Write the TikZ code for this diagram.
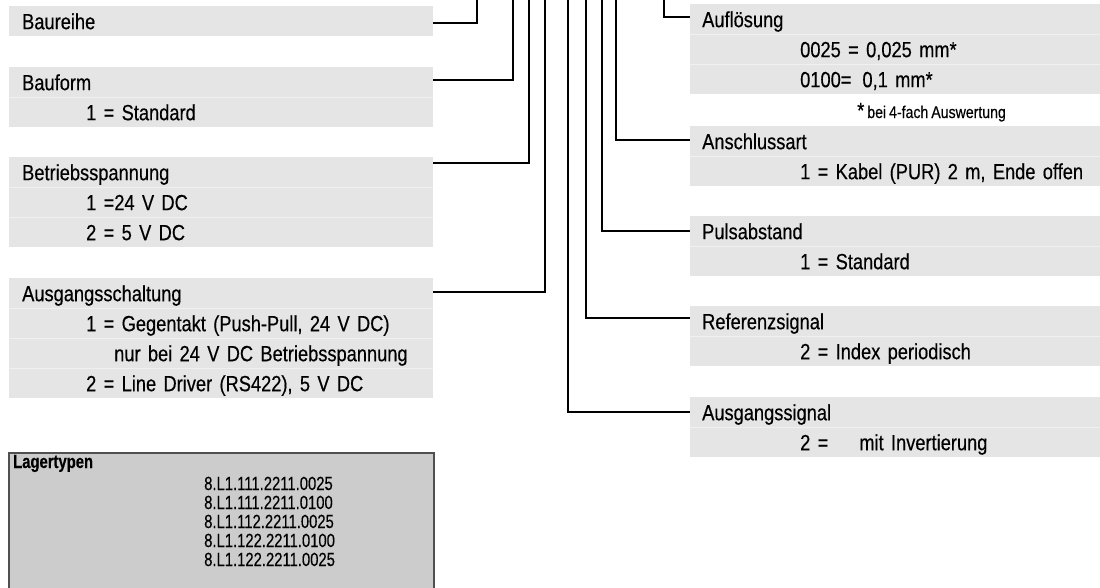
\documentclass[tikz,border=0pt]{standalone}
\usepackage{fontspec}
\setmainfont{Liberation Sans}[FakeStretch=0.83, FakeBold=0.4]
\newfontfamily\lagerfont{Liberation Sans}[FakeStretch=0.78, FakeBold=0.3]
\definecolor{boxgray}{HTML}{E5E5E5}
\definecolor{sepgray}{HTML}{F0F0F0}
\definecolor{lagerfill}{HTML}{CCCCCC}
\definecolor{lagerborder}{HTML}{505050}
\newcommand\mainsz{\fontsize{22}{26}\selectfont\spaceskip=3.6pt\relax}
\newcommand\fnsz{\fontsize{17}{20}\selectfont\spaceskip=3pt\relax}
\newcommand\lagersz{\lagerfont\fontsize{19}{21}\selectfont}
\begin{document}
\begin{tikzpicture}[x=1pt,y=-1pt,
  rowbase/.style={rectangle, fill=boxgray, anchor=north west, inner sep=0pt,
    text height=23pt, text depth=7pt, align=left, font=\mainsz},
  lrow/.style={rowbase, text width=424pt},
  rrow/.style={rowbase, text width=410pt},
  conn/.style={line width=2.5pt, black, line join=miter},
  sepline/.style={line width=1pt, sepgray},
  lagerbox/.style={rectangle, anchor=north west, draw=lagerborder, line width=1.5pt,
    fill=lagerfill, minimum width=425pt, minimum height=160pt, inner sep=0pt},
  lagertxt/.style={anchor=base west, inner sep=0pt, font=\lagersz}
]
\useasboundingbox (0,0) rectangle (1100,587);

% ---------- left boxes ----------
\node[lrow] (bauH) at (9,6) {\hspace*{13pt}Baureihe};

\node[lrow] (bfH) at (9,67) {\hspace*{13pt}Bauform};
\node[lrow] (bf1) at (9,97) {\hspace*{77pt}1 = Standard};

\node[lrow] (bsH) at (9,157) {\hspace*{13pt}Betriebsspannung};
\node[lrow] (bs1) at (9,187) {\hspace*{77pt}1 =24 V DC};
\node[lrow] (bs2) at (9,217) {\hspace*{77pt}2 = 5 V DC};

\node[lrow] (asH) at (9,278) {\hspace*{13pt}Ausgangsschaltung};
\node[lrow] (as1) at (9,308) {\hspace*{77pt}1 = Gegentakt (Push-Pull, 24 V DC)};
\node[lrow] (as2) at (9,338) {\hspace*{105pt}nur bei 24 V DC Betriebsspannung};
\node[lrow] (as3) at (9,368) {\hspace*{77pt}2 = Line Driver (RS422), 5 V DC};

% ---------- right boxes ----------
\node[rrow] (afH) at (690,4) {\hspace*{12pt}Auflösung};
\node[rrow] (af1) at (690,34) {\hspace*{110pt}0025 = 0,025 mm*};
\node[rrow] (af2) at (690,64) {\hspace*{110pt}0100=\hspace{11pt}0,1 mm*};

\node[anchor=base west, inner sep=0pt] (fn) at (857,118) {{\mainsz *}\fnsz\ bei 4-fach Auswertung};

\node[rrow] (anH) at (690,126) {\hspace*{12pt}Anschlussart};
\node[rrow] (an1) at (690,156) {\hspace*{110pt}1 = Kabel (PUR) 2 m, Ende offen};

\node[rrow] (puH) at (690,216) {\hspace*{12pt}Pulsabstand};
\node[rrow] (pu1) at (690,246) {\hspace*{110pt}1 = Standard};

\node[rrow] (reH) at (690,306) {\hspace*{12pt}Referenzsignal};
\node[rrow] (re1) at (690,336) {\hspace*{110pt}2 = Index periodisch};

\node[rrow] (agH) at (690,397) {\hspace*{12pt}Ausgangssignal};
\node[rrow] (ag1) at (690,427) {\hspace*{110pt}2 =\hspace{31pt}mit Invertierung};

% ---------- row separators ----------
\foreach \r in {bf1,bs1,bs2,as1,as2,as3,af1,af2,an1,pu1,re1,ag1}
  \draw[sepline] (\r.north west) -- (\r.north east);

% ---------- connectors ----------
\coordinate (vBau) at (477,-3);
\coordinate (vBf)  at (513,-3);
\coordinate (vBs)  at (529,-3);
\coordinate (vAs)  at (545,-3);
\coordinate (vAg)  at (568,-3);
\coordinate (vRe)  at (586,-3);
\coordinate (vPu)  at (602,-3);
\coordinate (vAn)  at (616,-3);
\coordinate (vAf)  at (664,-3);

\draw[conn] ([yshift=-2pt]bauH.east) -| (vBau);
\draw[conn] ([yshift=2pt]bfH.east) -| (vBf);
\draw[conn] ([yshift=9pt]bsH.east) -| (vBs);
\draw[conn] ([yshift=1pt]asH.east) -| (vAs);

\draw[conn] (vAf) |- ([yshift=2pt]afH.west);
\draw[conn] (vAn) |- ([yshift=1pt]anH.west);
\draw[conn] (vPu) |- (puH.west);
\draw[conn] (vRe) |- ([yshift=3pt]reH.west);
\draw[conn] (vAg) |- (agH.west);

% ---------- Lagertypen ----------
\node[lagerbox] (lager) at (8,452) {};
\node[lagertxt, font=\lagersz\bfseries] (lagT) at (13,468) {Lagertypen};
\node[lagertxt] (lag1) at (204,490) {8.L1.111.2211.0025};
\node[lagertxt] (lag2) at (204,509) {8.L1.111.2211.0100};
\node[lagertxt] (lag3) at (204,528) {8.L1.112.2211.0025};
\node[lagertxt] (lag4) at (204,547) {8.L1.122.2211.0100};
\node[lagertxt] (lag5) at (204,566) {8.L1.122.2211.0025};
\end{tikzpicture}
\end{document}
